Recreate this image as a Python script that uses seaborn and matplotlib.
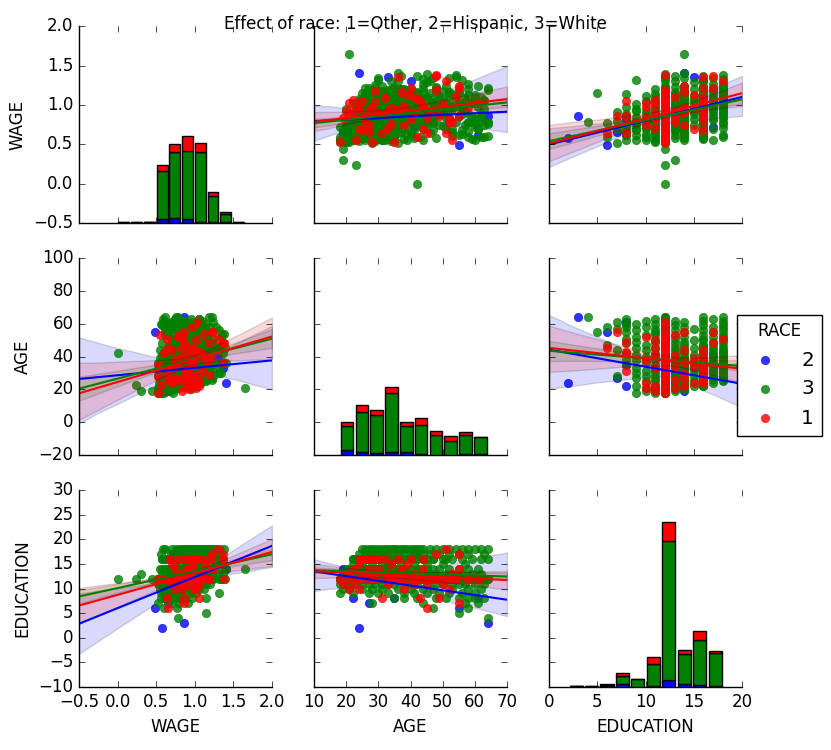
import matplotlib
matplotlib.use("Agg")
import matplotlib.pyplot as plt
import numpy as np
import pandas as pd
import seaborn as sns

plt.style.use("classic")
plt.rcParams["legend.scatterpoints"] = 1
plt.rcParams["legend.numpoints"] = 1
plt.rcParams["font.family"] = ["DejaVu Sans"]

VARS = ["WAGE", "AGE", "EDUCATION"]
RACE_ORDER = [2, 3, 1]
RACE_COLORS = {2: "b", 3: "g", 1: "r"}
TITLE = "Effect of race: 1=Other, 2=Hispanic, 3=White"

# ---------------- RACE 2 (Hispanic) : grouped by education level ----------------
EDU_2 = [2, 3, 6, 7, 8, 11, 12, 13, 14, 15, 16, 17]
AGE_2 = [[24], [64], [55], [27], [22, 35, 61], [20],
         [18, 19, 21, 20, 29, 33, 38, 36, 39, 37], [31], [24, 30, 34, 19], [33],
         [40, 26], [41]]
WAGE_2 = [[0.58], [0.86], [0.49], [0.66], [0.81, 0.86, 0.62], [0.72],
          [0.55, 0.60, 0.70, 0.53, 0.76, 0.88, 0.93, 1.05, 0.79, 1.20], [0.68],
          [1.41, 0.97, 1.12, 0.64], [1.36], [1.30, 0.90], [0.72]]

# ---------------- RACE 1 (Other) : grouped by education level ----------------
EDU_1 = [6, 7, 8, 10, 11, 12, 13, 14, 15, 16, 17, 18]
AGE_1 = [[45], [55], [31, 43, 49], [24, 52, 38, 21], [19, 22, 41, 50, 33, 45],
         [18, 20, 23, 25, 27, 29, 28, 32, 34, 36, 35, 38, 40, 42, 42, 44, 46, 48, 48,
          51, 52, 53, 54, 58, 61],
         [21, 26, 33, 41, 53], [22, 30, 37, 44, 55, 27], [24, 34, 39],
         [24, 25, 26, 27, 28, 29, 30, 36, 40, 44, 32], [48, 55], [51]]
WAGE_1 = [[0.65], [0.86], [0.64, 1.05, 0.86], [0.98, 0.84, 0.75, 1.02],
          [0.83, 1.06, 0.90, 1.01, 0.71, 0.84],
          [0.53, 0.92, 0.56, 1.05, 0.66, 1.18, 0.53, 0.88, 0.76, 0.95, 0.53, 0.99, 0.82,
           1.08, 0.60, 0.70, 0.92, 1.38, 1.19, 0.64, 0.78, 0.55, 1.12, 0.97, 1.03],
          [0.89, 0.85, 0.93, 1.10, 0.79], [0.93, 0.90, 1.17, 0.98, 1.24, 0.74],
          [0.70, 0.96, 1.13],
          [0.95, 0.68, 0.80, 0.92, 0.97, 1.04, 0.87, 1.36, 1.21, 0.99, 1.09],
          [1.37, 1.22], [1.30]]

# ---------------- RACE 3 (White) : grouped by education level ----------------
EDU_3 = [4, 5, 6, 7, 8, 9, 10, 11, 12, 13, 14, 15, 16, 17, 18]
AGE_3 = [
    [64],
    [55],
    [47, 58],
    [28, 57, 44, 61],
    [35, 63, 55, 48, 42, 60, 38, 51, 58],
    [18, 22, 30, 33, 38, 45, 49, 52, 56, 60, 41, 27],
    [19, 21, 25, 36, 40, 44, 47, 53, 58, 62, 31, 28],
    [18, 19, 20, 21, 23, 25, 27, 29, 33, 35, 38, 42, 45, 48, 50, 53, 55, 57, 60, 63, 31, 40],
    [18, 18, 19, 19, 19, 20, 20, 20, 21, 21, 21, 22, 22, 22, 20, 18, 22,
     23, 23, 23, 23, 24, 24, 24, 24, 25, 25, 25, 25, 26, 26, 26, 26, 26, 27, 27, 27, 27, 27, 33, 34, 32, 36,
     28, 28, 28, 28, 28, 29, 29, 29, 29, 29, 30, 30, 30, 30, 30, 31, 31, 31, 31, 31, 35, 32, 28,
     32, 32, 32, 32, 32, 32, 32, 33, 33, 33, 33, 33, 33, 33, 34, 34, 34, 34, 34, 34, 34,
     35, 35, 35, 35, 35, 35, 35, 36, 36, 36, 36, 36, 36, 36, 36, 36,
     37, 37, 37, 37, 38, 38, 38, 38, 39, 39, 39, 39, 40, 40, 40, 40,
     41, 41, 41, 41, 42, 42, 42, 42, 43, 43, 43, 43, 44, 44, 44, 44, 45, 45, 45, 45,
     46, 46, 46, 47, 47, 48, 48, 48, 49, 49, 50, 50,
     51, 51, 51, 52, 52, 53, 53, 54, 54, 54,
     55, 55, 56, 56, 57, 57, 58, 58, 59, 59,
     60, 60, 61, 61, 62, 63, 63, 64, 64],
    [19, 20, 21, 22, 24, 25, 26, 27, 28, 29, 30, 31, 32, 33, 34, 35, 36, 38, 40, 42, 44, 46, 48, 51,
     53, 56, 59, 62, 33, 24, 37],
    [21, 20, 21, 22, 22, 23, 23, 24, 24, 25, 25, 26, 26, 27, 27, 28, 28, 29, 29, 30, 30, 31, 31, 32,
     32, 33, 33, 34, 34, 35, 35, 36, 37, 38, 39, 40, 42, 43, 45, 47, 49, 52, 55, 58, 61, 36],
    [22, 25, 28, 31, 34, 37, 41, 45, 50, 57],
    [22, 22, 23, 23, 24, 24, 24, 25, 25, 26, 26, 26, 27, 27, 28, 28, 28, 29, 29, 30, 30, 30, 31, 31,
     32, 32, 32, 33, 33, 34, 34, 34, 35, 35, 36, 36, 36, 38, 38, 40, 40, 42, 42, 44, 44, 47, 47, 50,
     53, 56, 59, 62, 64, 45, 51, 39, 27, 33],
    [24, 26, 27, 28, 30, 31, 32, 33, 35, 36, 38, 40, 42, 44, 46, 49, 52, 55, 58, 63],
    [25, 26, 27, 28, 29, 30, 31, 32, 33, 34, 35, 36, 37, 38, 39, 40, 41, 43, 44, 46, 48, 50, 52, 54,
     56, 58, 60, 62, 64, 35, 42],
]
WAGE_3 = [
    [0.78],
    [1.15],
    [0.77, 0.60],
    [0.52, 0.91, 0.80, 0.70],
    [1.14, 0.75, 0.62, 0.88, 0.97, 0.56, 0.70, 0.83, 0.66],
    [0.56, 0.62, 1.32, 0.80, 0.92, 0.85, 0.74, 1.01, 0.68, 0.77, 0.95, 0.70],
    [0.55, 0.63, 0.72, 0.88, 1.05, 0.81, 0.94, 0.70, 0.77, 0.60, 1.12, 0.84],
    [0.54, 0.58, 0.53, 0.65, 0.70, 0.78, 0.61, 0.87, 0.92, 1.10, 0.83, 0.98, 0.75, 1.14, 0.90, 0.66,
     0.86, 1.04, 0.72, 0.95, 0.80, 1.20],
    [0.53, 0.60, 0.44, 0.57, 0.68, 0.55, 0.62, 0.74, 0.53, 0.66, 0.80, 0.58, 0.70, 0.56, 0.95, 0.72, 1.02,
     0.24, 0.56, 0.65, 0.78, 0.54, 0.69, 0.83, 0.97, 0.60, 0.73, 0.63, 1.08, 0.55, 0.64, 0.77, 0.58, 1.15,
     0.59, 0.71, 0.61, 0.99, 1.22, 0.93, 0.75, 0.88, 1.02,
     0.53, 0.67, 0.81, 0.94, 1.10, 0.58, 0.72, 0.54, 1.03, 1.07, 0.62, 0.76, 0.90, 1.06, 1.34, 0.55, 0.69,
     0.65, 0.98, 1.18, 0.83, 0.96, 0.74,
     0.56, 0.70, 0.84, 0.93, 1.05, 1.12, 0.60, 0.61, 0.75, 0.57, 1.00, 1.13, 0.79, 0.95,
     0.54, 0.67, 0.82, 0.97, 1.09, 1.31, 0.87,
     0.59, 0.73, 0.60, 1.01, 1.16, 0.92, 1.01, 0.64, 0.78, 0.91, 1.04, 0.52, 0.83, 0.99, 1.11, 0.71,
     0.66, 0.85, 1.02, 1.19, 0.57, 0.79, 0.94, 1.12, 0.72, 0.90, 1.07, 0.55, 0.62, 0.81, 0.98, 1.09,
     0.68, 0.88, 1.06, 0.58, 0.00, 0.74, 0.93, 1.14, 0.60, 0.83, 1.00, 1.10, 0.71, 0.96, 1.17, 0.55,
     0.77, 0.89, 1.10, 1.39,
     0.65, 0.92, 1.15, 0.80, 1.03, 0.58, 0.87, 1.21, 0.97, 1.08, 0.73, 1.04,
     0.69, 1.01, 1.24, 0.84, 1.12, 0.61, 0.95, 0.78, 1.06, 1.35,
     0.86, 1.18, 0.63, 0.99, 0.75, 1.09, 0.90, 1.13, 0.57, 1.02,
     0.82, 1.13, 0.70, 0.97, 0.88, 0.59, 1.05, 0.76, 1.22],
    [0.30, 0.58, 0.67, 0.79, 0.62, 0.88, 0.73, 1.01, 0.94, 0.81, 1.12, 0.69, 0.97, 1.05, 0.86, 1.23,
     0.76, 1.09, 0.92, 1.17, 0.84, 1.31, 0.99, 0.72, 1.14, 0.89, 1.03, 0.80, 0.91, 0.95, 1.37],
    [1.65, 0.61, 0.70, 0.55, 0.83, 0.66, 0.92, 0.77, 1.04, 0.58, 0.86, 0.99, 1.13, 0.72, 0.90, 1.08,
     0.81, 0.95, 1.21, 0.68, 1.02, 0.87, 1.16, 0.93, 1.05, 0.79, 1.07, 0.98, 0.72, 0.85, 1.12, 1.00,
     0.74, 1.19, 0.91, 0.63, 0.83, 1.10, 0.96, 1.34, 0.88, 1.15, 1.03, 0.78, 1.24, 1.41],
    [0.74, 0.96, 1.11, 0.82, 1.20, 1.02, 0.89, 1.29, 1.06, 0.93],
    [0.62, 0.85, 0.70, 0.99, 0.58, 0.78, 1.08, 0.88, 1.15, 0.67, 0.95, 1.22, 0.80, 1.05, 0.92, 1.06,
     0.73, 1.01, 1.17, 0.84, 1.12, 0.57, 0.97, 1.24, 0.76, 1.06, 1.14, 0.90, 1.19, 1.03, 0.64, 0.82,
     0.94, 1.14, 1.09, 1.30, 0.87, 1.00, 0.79, 0.79, 1.16, 1.11, 1.37, 0.93, 1.21, 1.04, 0.68, 1.18,
     0.97, 1.32, 0.86, 1.10, 0.61, 1.07, 0.91, 1.13, 1.03, 0.74],
    [0.83, 1.05, 0.69, 1.19, 0.94, 0.56, 1.08, 0.87, 1.22, 1.00, 1.02, 0.92, 1.15, 1.27, 0.81, 1.12,
     1.34, 0.98, 1.20, 1.06],
    [0.76, 0.98, 1.13, 0.88, 1.25, 1.02, 0.71, 1.17, 1.04, 0.93, 1.08, 1.10, 0.84, 1.20, 0.62, 1.00,
     1.11, 0.79, 1.33, 1.05, 1.23, 0.90, 1.16, 1.38, 0.97, 1.27, 1.09, 0.85, 1.19, 0.59, 0.95],
]

AXIS_LIMITS = {"WAGE": (-0.5, 2.0), "AGE": (-20, 100), "EDUCATION": (-10, 30)}
X_LIMITS = {"WAGE": (-0.5, 2.0), "AGE": (10, 70), "EDUCATION": (0, 20)}
DIAG_COUNT_LIMIT = (0, 300)


def build_rows(race, levels, ages, wages):
    rows = []
    for edu, a_list, w_list in zip(levels, ages, wages):
        assert len(a_list) == len(w_list), (race, edu, len(a_list), len(w_list))
        for a, w in zip(a_list, w_list):
            rows.append((w, a, edu, race))
    return rows


rows = (build_rows(2, EDU_2, AGE_2, WAGE_2)
        + build_rows(3, EDU_3, AGE_3, WAGE_3)
        + build_rows(1, EDU_1, AGE_1, WAGE_1))
df = pd.DataFrame(rows, columns=["WAGE", "AGE", "EDUCATION", "RACE"])

g = sns.PairGrid(df, vars=VARS, hue="RACE", hue_order=RACE_ORDER,
                 palette=RACE_COLORS, height=2.5, diag_sharey=True)

# stacked histograms: first stacked level at the bottom (blue), red on top
g.map_diag(sns.histplot, multiple="stack", bins=10, shrink=0.85,
           hue_order=RACE_ORDER[::-1], edgecolor="k", linewidth=1.0, alpha=1.0)

for j, var in enumerate(VARS):
    g.axes[len(VARS) - 1, j].set_xlim(X_LIMITS[var])

g.map_offdiag(sns.regplot, truncate=False, seed=0,
              scatter_kws={"s": 36}, line_kws={"lw": 1.5})

# final axis ranges
for i, yv in enumerate(VARS):
    for j, xv in enumerate(VARS):
        ax = g.axes[i, j]
        ax.set_xlim(X_LIMITS[xv])
        if i != j:
            ax.set_ylim(AXIS_LIMITS[yv])
for i, yv in enumerate(VARS):
    g.axes[i, 0 if i != 0 else 1].set_ylim(AXIS_LIMITS[yv])
for dax in g.diag_axes:
    dax.set_ylim(DIAG_COUNT_LIMIT)

fig = g.figure
fig.set_size_inches(8.31, 7.5)
fig.subplots_adjust(left=0.095, right=0.893, bottom=0.084, top=0.965,
                    wspace=0.218, hspace=0.178)

handles, labels = g.axes[0, 1].get_legend_handles_labels()
fig.legend(handles, labels, title="RACE", loc="center right",
           bbox_to_anchor=(0.989, 0.5), borderaxespad=0.0, frameon=True,
           fontsize=14.4, title_fontsize=12)

fig.suptitle(TITLE, fontsize=12)
fig.savefig("out.png", dpi=100)
